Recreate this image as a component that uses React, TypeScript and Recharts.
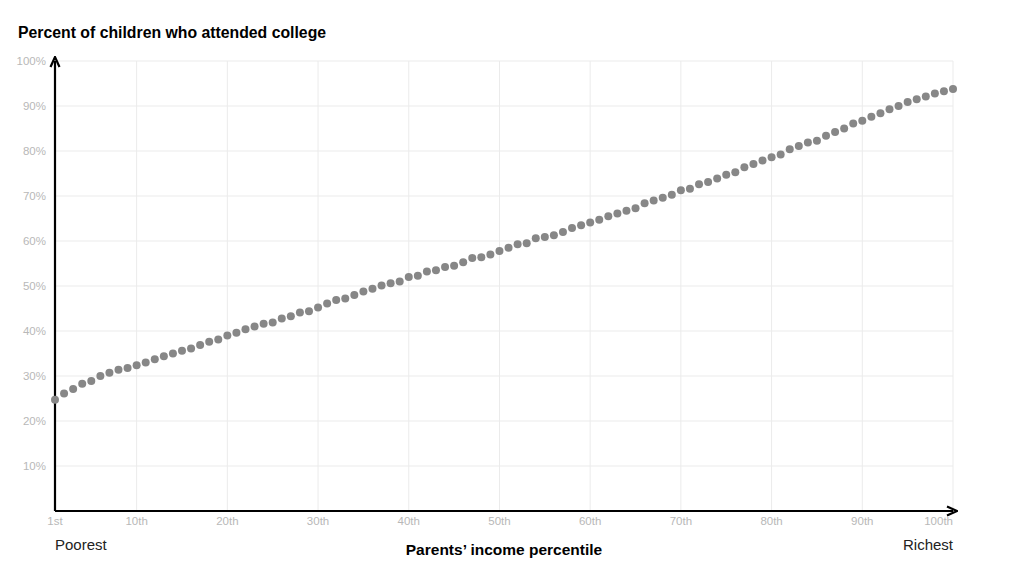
import React from 'react';
import { ScatterChart, Scatter, XAxis, YAxis, CartesianGrid } from 'recharts';

// share of children attending college, by parents' income percentile (1..100)
const percentiles = Array.from({ length: 100 }, (_, i) => i + 1);
const collegeRate = [
  24.7, 26.1, 27.1, 28.3, 28.9, 30.0, 30.7, 31.4, 31.8, 32.4,
  33.0, 33.7, 34.4, 35.0, 35.6, 36.1, 36.9, 37.6, 38.1, 39.0,
  39.6, 40.4, 41.0, 41.6, 41.9, 42.8, 43.3, 44.1, 44.4, 45.2,
  46.1, 46.9, 47.2, 48.0, 48.8, 49.4, 50.1, 50.6, 51.0, 52.0,
  52.3, 53.2, 53.5, 54.2, 54.5, 55.3, 56.2, 56.4, 57.0, 57.8,
  58.5, 59.3, 59.5, 60.6, 60.9, 61.3, 62.0, 62.9, 63.5, 64.1,
  64.7, 65.5, 66.1, 66.7, 67.3, 68.4, 69.0, 69.6, 70.3, 71.3,
  71.6, 72.6, 73.1, 73.9, 74.7, 75.3, 76.4, 77.1, 77.9, 78.6,
  79.2, 80.4, 81.1, 81.9, 82.3, 83.4, 84.2, 85.0, 86.1, 86.7,
  87.6, 88.4, 89.3, 90.0, 90.9, 91.5, 92.1, 92.8, 93.3, 93.8,
];
const xTicks = [1, 10, 20, 30, 40, 50, 60, 70, 80, 90, 100];
const xTickLabels = ['1st', '10th', '20th', '30th', '40th', '50th', '60th', '70th', '80th', '90th', '100th'];
const yTicks = [10, 20, 30, 40, 50, 60, 70, 80, 90, 100];

const data = percentiles.map((p, i) => ({ pct: p, rate: collegeRate[i] }));

const FONT = '"Liberation Sans", Arial, sans-serif';
const TICK_COLOR = '#b8b8b8';

const XTick = (props: any) => {
  const { x, y, payload } = props;
  const idx = xTicks.indexOf(payload.value);
  const last = payload.value === 100;
  return (
    <text x={x} y={y} dy="0.71em" textAnchor={last ? 'end' : 'middle'} fill={TICK_COLOR} fontSize={11.5} fontFamily={FONT}>
      {xTickLabels[idx]}
    </text>
  );
};

const Dot = (props: any) => <circle cx={props.cx} cy={props.cy} r={4} fill="#878787" />;

export default function App() {
  return (
    <div style={{ position: 'absolute', left: 0, top: 0, width: 1011, height: 575, background: '#fff', fontFamily: FONT }}>
      <svg width={0} height={0} style={{ position: 'absolute' }}>
        <defs>
          <marker id="axisArrow" viewBox="0 0 12 12" refX={7} refY={6} markerWidth={12} markerHeight={12}
            markerUnits="userSpaceOnUse" orient="auto-start-reverse">
            <path d="M1,1.5 L11,6 L1,10.5" fill="none" stroke="#000" strokeWidth={2.2} />
          </marker>
        </defs>
      </svg>
      <div style={{ position: 'absolute', left: 18, top: 25, fontSize: 15.8, lineHeight: '16px', fontWeight: 700, color: '#000' }}>
        Percent of children who attended college
      </div>
      <ScatterChart width={1011} height={575} data={data} margin={{ top: 61, right: 58, bottom: 0, left: 0 }}>
        <CartesianGrid stroke="#ebebeb" strokeWidth={1} />
        <XAxis
          type="number"
          dataKey="pct"
          domain={[1, 100]}
          ticks={xTicks}
          height={64}
          tickSize={0}
          tickMargin={6}
          tick={<XTick />}
          axisLine={{ stroke: '#000', strokeWidth: 2.2, markerEnd: 'url(#axisArrow)' } as any}
          interval={0}
        />
        <YAxis
          type="number"
          dataKey="rate"
          domain={[0, 100]}
          ticks={yTicks}
          width={55}
          tickSize={0}
          tickMargin={9}
          tickFormatter={(v) => `${v}%`}
          tick={{ fill: TICK_COLOR, fontSize: 11.5, fontFamily: FONT }}
          axisLine={{ stroke: '#000', strokeWidth: 2.2, markerStart: 'url(#axisArrow)' } as any}
          interval={0}
        />
        <Scatter data={data} shape={<Dot />} isAnimationActive={false} />
      </ScatterChart>
      <div style={{ position: 'absolute', left: 55, top: 537, fontSize: 15, lineHeight: '16px', color: '#222' }}>Poorest</div>
      <div style={{ position: 'absolute', right: 1011 - 953, top: 537, fontSize: 15, lineHeight: '16px', color: '#222' }}>Richest</div>
      <div style={{ position: 'absolute', left: 0, width: 1008, textAlign: 'center', top: 542, fontSize: 15.5, lineHeight: '16px', fontWeight: 700, color: '#000' }}>
        Parents’ income percentile
      </div>
    </div>
  );
}
